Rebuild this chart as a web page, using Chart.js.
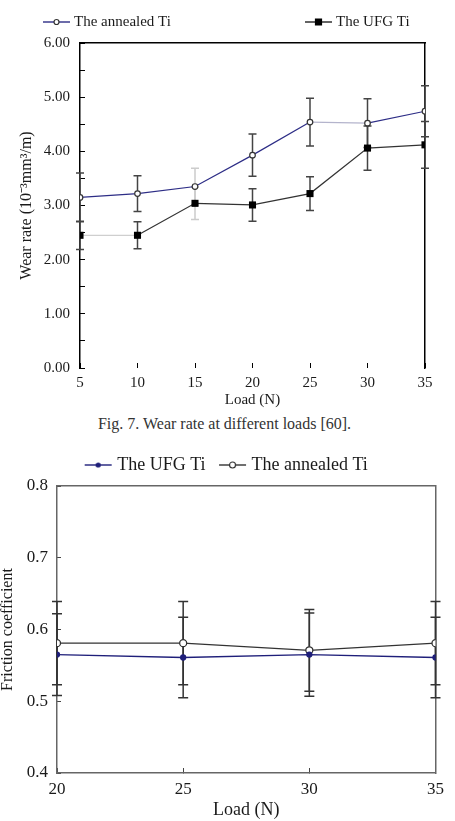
<!DOCTYPE html>
<html>
<head>
<meta charset="utf-8">
<script src="https://cdn.jsdelivr.net/npm/chart.js@4.4.1/dist/chart.umd.min.js"></script>
<style>
  body { margin: 0; background: #fff; width: 455px; height: 821px; position: relative; overflow: hidden; }
  .box { position: absolute; left: 0; width: 455px; }
  #caption { position: absolute; left: 0; width: 449px; top: 415px; text-align: center;
             font: 16px "Liberation Serif", "Times New Roman", serif; color: #333; }
</style>
</head>
<body>
<div class="box" style="top:0;height:410px"><canvas id="wear_chart"></canvas></div>
<div id="caption">Fig. 7. Wear rate at different loads [60].</div>
<div class="box" style="top:440px;height:381px"><canvas id="friction_chart"></canvas></div>
<script>
// Fig. 7 - wear rate (10^-3 mm3/m) vs load
const wearLoads = [5, 10, 15, 20, 25, 30, 35];
const wearAnnealed = [3.15, 3.22, 3.35, 3.93, 4.54, 4.52, 4.74];
const wearAnnealedErr = [0.45, 0.33, 0.34, 0.39, 0.44, 0.45, 0.47];
const wearUFG = [2.45, 2.45, 3.04, 3.01, 3.22, 4.06, 4.12];
const wearUFGErr = [0.26, 0.25, 0.30, 0.30, 0.31, 0.41, 0.43];

// friction coefficient vs load
const fricLoads = [20, 25, 30, 35];
const fricUFG = [0.565, 0.561, 0.565, 0.561];
const fricUFGErr = [0.057, 0.056, 0.058, 0.056];
const fricAnnealed = [0.581, 0.581, 0.571, 0.581];
const fricAnnealedErr = [0.058, 0.058, 0.057, 0.058];

Chart.defaults.font.family = '"Liberation Serif", "Times New Roman", serif';
Chart.defaults.color = '#1a1a1a';
Chart.defaults.animation = false;

// little line + marker picture used in both legends
function legendIcon(lineColor, style, r, fill, stroke) {
    const c = document.createElement('canvas');
    c.width = 30; c.height = 12;
    const g = c.getContext('2d');
    g.strokeStyle = lineColor; g.lineWidth = 1.4;
    g.beginPath(); g.moveTo(2, 6); g.lineTo(29, 6); g.stroke();
    g.fillStyle = fill; g.strokeStyle = stroke; g.lineWidth = 1.2;
    g.beginPath();
    if (style === 'rect') g.rect(15.5 - r, 6 - r, 2 * r, 2 * r);
    else g.arc(15.5, 6, r, 0, Math.PI * 2);
    g.fill(); g.stroke();
    return c;
}

const errorBars = {
    id: 'errorBars',
    beforeDatasetsDraw(chart, args, opts) {
        const ctx = chart.ctx;
        const yScale = chart.scales.y;
        chart.data.datasets.forEach((ds, i) => {
            if (!ds.errors) return;
            const meta = chart.getDatasetMeta(i);
            meta.data.forEach((pt, j) => {
                const v = ds.data[j].y, e = ds.errors[j];
                const top = yScale.getPixelForValue(v + e);
                const bot = yScale.getPixelForValue(v - e);
                ctx.save();
                ctx.strokeStyle = (opts.colors && opts.colors[j]) || opts.color;
                ctx.lineWidth = opts.width;
                ctx.beginPath();
                ctx.moveTo(pt.x, top); ctx.lineTo(pt.x, bot);
                ctx.moveTo(pt.x - opts.cap, top); ctx.lineTo(pt.x + opts.cap, top);
                ctx.moveTo(pt.x - opts.cap, bot); ctx.lineTo(pt.x + opts.cap, bot);
                ctx.stroke();
                ctx.restore();
            });
        });
    }
};

// legend of the first figure: two items pushed apart
const splitLegend = {
    id: 'splitLegend',
    afterDraw(chart, args, opts) {
        const ctx = chart.ctx;
        ctx.save();
        ctx.font = opts.fontSize + 'px ' + Chart.defaults.font.family;
        ctx.fillStyle = '#1a1a1a';
        ctx.textBaseline = 'middle';
        chart.data.datasets.forEach((ds, i) => {
            const it = opts.items[i];
            ctx.drawImage(opts.icons[i], it.x, opts.y - 6);
            ctx.fillText(ds.label, it.textX, opts.y);
        });
        ctx.restore();
    }
};

const wearIcons = [
    legendIcon('#2d2d86', 'circle', 2.5, '#fff', '#333'),
    legendIcon('#222', 'rect', 3, '#000', '#000')
];

new Chart(document.getElementById('wear_chart'), {
    type: 'line',
    data: {
        datasets: [
        {
            label: 'The annealed Ti',
            data: wearLoads.map((x, i) => ({x: x, y: wearAnnealed[i]})),
            errors: wearAnnealedErr,
            borderColor: '#2d2d86',
            borderWidth: 1.2,
            pointStyle: 'circle',
            pointRadius: 2.8,
            pointBackgroundColor: '#fff',
            pointBorderColor: '#333',
            pointBorderWidth: 1.2,
            segment: { borderColor: c => c.p0DataIndex === 4 ? '#b4b4cc' : undefined }
        },
        {
            label: 'The UFG Ti',
            data: wearLoads.map((x, i) => ({x: x, y: wearUFG[i]})),
            errors: wearUFGErr,
            borderColor: '#333',
            borderWidth: 1.2,
            pointStyle: 'rect',
            pointRadius: 5,
            pointBackgroundColor: '#000',
            pointBorderColor: '#000',
            pointBorderWidth: 0,
            segment: { borderColor: c => c.p0DataIndex === 0 ? '#cfcfcf' : undefined }
        }]
    },
    options: {
        responsive: true,
        maintainAspectRatio: false,
        layout: { padding: { top: 43, left: 0, right: 0, bottom: 0 } },
        plugins: {
            legend: { display: false },
            tooltip: { enabled: false },
            errorBars: { color: '#444', width: 1.5, cap: 4, colors: [null, null, '#cccccc'] },
            splitLegend: { y: 22, fontSize: 15, icons: wearIcons,
                           items: [{x: 41, textX: 74}, {x: 303, textX: 336}] }
        },
        scales: {
            x: {
                type: 'linear', min: 5, max: 35,
                afterFit: s => { s.height = 42; },
                border: { display: false },
                grid: { drawOnChartArea: false, tickLength: -5, color: '#000' },
                ticks: { stepSize: 5, padding: 11, font: { size: 15 } },
                title: { display: true, text: 'Load (N)', font: { size: 15 }, padding: { top: 0, bottom: 1 } }
            },
            x2: {
                type: 'linear', position: 'top', min: 5, max: 35,
                afterFit: s => { s.height = 0; },
                border: { color: '#000', width: 1.5 },
                grid: { drawOnChartArea: false, drawTicks: false },
                ticks: { display: false }
            },
            y: {
                min: 0, max: 6,
                afterFit: s => { s.width = 80; },
                border: { color: '#000', width: 1.5 },
                grid: { drawOnChartArea: false, tickLength: -5, color: '#000' },
                ticks: { stepSize: 0.5, padding: 15, font: { size: 15 },
                         callback: v => Number.isInteger(v) ? v.toFixed(2) : '' },
                title: { display: true, text: 'Wear rate (10⁻³mm³/m)', font: { size: 16 }, padding: { top: 17, bottom: 0 } }
            },
            y2: {
                position: 'right', min: 0, max: 6,
                afterFit: s => { s.width = 30; },
                border: { color: '#000', width: 1.5 },
                grid: { drawOnChartArea: false, drawTicks: false },
                ticks: { display: false }
            }
        }
    },
    plugins: [errorBars, splitLegend]
});

const fricIcons = [
    legendIcon('#1f1f7a', 'circle', 2, '#1f1f7a', '#1f1f7a'),
    legendIcon('#333', 'circle', 3, '#fff', '#333')
];

new Chart(document.getElementById('friction_chart'), {
    type: 'line',
    data: {
        datasets: [
        {
            label: 'The UFG Ti',
            data: fricLoads.map((x, i) => ({x: x, y: fricUFG[i]})),
            errors: fricUFGErr,
            borderColor: '#1f1f7a',
            borderWidth: 1.3,
            pointRadius: 2.5,
            pointBackgroundColor: '#1f1f7a',
            pointBorderColor: '#1f1f7a'
        },
        {
            label: 'The annealed Ti',
            data: fricLoads.map((x, i) => ({x: x, y: fricAnnealed[i]})),
            errors: fricAnnealedErr,
            borderColor: '#333',
            borderWidth: 1.3,
            pointRadius: 3.5,
            pointBackgroundColor: '#fff',
            pointBorderColor: '#333',
            pointBorderWidth: 1.3
        }]
    },
    options: {
        responsive: true,
        maintainAspectRatio: false,
        layout: { padding: 0 },
        plugins: {
            tooltip: { enabled: false },
            errorBars: { color: '#333', width: 1.5, cap: 5 },
            legend: {
                position: 'top',
                labels: {
                    usePointStyle: true,
                    pointStyleWidth: 21,
                    padding: 16,
                    font: { size: 18 },
                    color: '#1a1a1a',
                    generateLabels: chart => chart.data.datasets.map((ds, i) => ({
                        text: ds.label, pointStyle: fricIcons[i], datasetIndex: i,
                        lineWidth: 0, hidden: false, fontColor: '#1a1a1a'
                    }))
                }
            }
        },
        scales: {
            x: {
                type: 'linear', min: 20, max: 35,
                afterFit: s => { s.height = 48; },
                border: { color: '#666', width: 1.5 },
                grid: { drawOnChartArea: false, tickLength: -5, color: '#444' },
                ticks: { stepSize: 5, padding: 11, font: { size: 17 } },
                title: { display: true, text: 'Load (N)', font: { size: 18 }, padding: { top: 0, bottom: 0 } }
            },
            x2: {
                type: 'linear', position: 'top', min: 20, max: 35,
                afterFit: s => { s.height = 2; },
                border: { color: '#666', width: 1.5 },
                grid: { drawOnChartArea: false, drawTicks: false },
                ticks: { display: false }
            },
            y: {
                min: 0.4, max: 0.8,
                afterFit: s => { s.width = 57; },
                border: { color: '#666', width: 1.5 },
                grid: { drawOnChartArea: false, tickLength: -4, color: '#444' },
                ticks: { stepSize: 0.1, padding: 13, font: { size: 17 }, callback: v => v.toFixed(1) },
                title: { display: true, text: 'Friction coefficient', font: { size: 16 }, padding: { top: -2, bottom: 0 } }
            },
            y2: {
                position: 'right', min: 0.4, max: 0.8,
                afterFit: s => { s.width = 8; },
                border: { color: '#666', width: 1.5 },
                grid: { drawOnChartArea: false, drawTicks: false },
                ticks: { display: false }
            }
        }
    },
    plugins: [errorBars]
});
</script>
</body>
</html>
